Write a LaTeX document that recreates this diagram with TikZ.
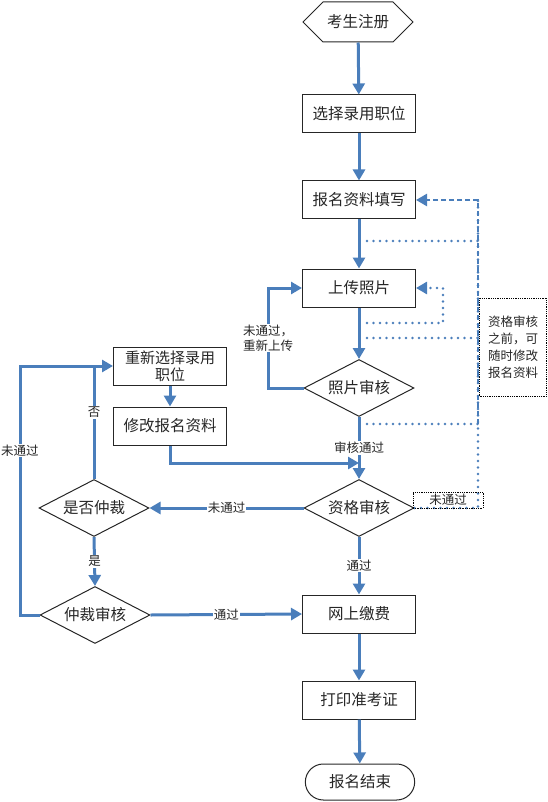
\documentclass[tikz,border=0pt]{standalone}
\usepackage{fontspec}
\usepackage{tikz}
\usetikzlibrary{arrows.meta, positioning, shapes.geometric, shapes.misc, shapes.symbols}
\newfontfamily\cjk{Noto Sans CJK SC}
\definecolor{FlowBlue}{HTML}{4A7EBB}
\definecolor{EdgeDark}{HTML}{262626}

\begin{document}
\begin{tikzpicture}[
    x=1pt, y=-1pt,
    every node/.style={font=\cjk\fontsize{15.5}{18}\selectfont, text=EdgeDark},
    box/.style={draw=EdgeDark, line width=1pt, minimum width=113pt, minimum height=38pt, inner sep=1pt, align=center},
    check/.style={diamond, aspect=2, draw=EdgeDark, line width=1pt, minimum width=110pt, minimum height=57pt, inner sep=0pt},
    start/.style={signal, signal to=west and east, draw=EdgeDark, line width=1pt, minimum width=110pt, minimum height=40pt},
    stop/.style={rounded rectangle, draw=EdgeDark, line width=1pt, minimum width=116pt, minimum height=36pt},
    flow/.style={draw=FlowBlue, line width=3pt, -{Triangle[length=11pt, width=12pt]}},
    link/.style={draw=FlowBlue, line width=3pt},
    dotline/.style={draw=FlowBlue, line width=2.6pt, line cap=round, dash pattern=on 0pt off 6.5pt},
    dashline/.style={draw=FlowBlue, line width=2.5pt, dash pattern=on 5pt off 3pt},
    lbl/.style={fill=white, inner sep=1pt, font=\cjk\fontsize{12.5}{15}\selectfont, align=center},
    tag/.style={draw=black, densely dotted, line width=0.8pt, minimum width=70pt, minimum height=16pt, inner sep=0pt, font=\cjk\fontsize{12.5}{14}\selectfont},
    memo/.style={draw=black, densely dotted, line width=0.8pt, minimum width=67pt, minimum height=98pt, align=left, font=\cjk\fontsize{12.5}{17}\selectfont}
]
\useasboundingbox (0,0) rectangle (548,802);

% === Main column ===
\node[start] (reg) at (358,22) {考生注册};
\node[box] (pick) at (359,114) {选择录用职位};
\node[box] (fill) at (359,200) {报名资料填写};
\node[box] (photo) at (359,288) {上传照片};
\node[check] (pcheck) at (359,388) {照片审核};
\node[check] (qcheck) at (359,508) {资格审核};
\node[box] (pay) at (359,614) {网上缴费};
\node[box] (print) at (359,700) {打印准考证};
\node[stop] (done) at (360,782) {报名结束};

% === Left branch ===
\node[box, inner sep=0pt, font=\cjk\fontsize{15}{17}\selectfont] (repick) at (170,366) {重新选择录用\\职位};
\node[box] (edit) at (170,426) {修改报名资料};
\node[check] (appeal) at (94,508) {是否仲裁};
\node[check] (arb) at (95,615) {仲裁审核};

% === Notes ===
\node[memo] (note) at (513,347) {资格审核\\之前，可\\随时修改\\报名资料};

% main flow
\draw[flow] (reg) -- (pick);
\draw[flow] (pick) -- (fill);
\draw[flow] (fill) -- (photo);
\draw[flow] (photo) -- (pcheck);
\draw[flow] (pcheck) -- node[lbl] {审核通过} (qcheck);
\draw[flow] (qcheck) -- node[lbl] {通过} (pay);
\draw[flow] (pay) -- (print);
\draw[flow] (print) -- (done);

% photo retry
\coordinate (retry) at (268,288);
\draw[flow] (pcheck.west) -| node[lbl, pos=0.75] {未通过，\\重新上传} (retry) -- (photo.west);

% appeal loop
\draw[flow] (qcheck.west) -- node[lbl] {未通过} (appeal.east);
\draw[flow] (appeal.south) -- node[lbl] {是} (arb.north);
\draw[flow] (arb.east) -- node[lbl] {通过} (pay.west);
\coordinate (loop) at (20,366);
\draw[flow] (arb.west) -| node[lbl, pos=0.83] {未通过} (loop) -- (repick.west);
\draw[link] (appeal.north) -- node[lbl, pos=0.59] {否} (appeal.north |- repick.west);
\draw[flow] (repick) -- (edit);
\draw[flow] (edit.south) |- (qcheck.north |- 0,463);

% dotted edits before review
\coordinate (railtop) at (478,200);
\coordinate (tapA) at (367,241);
\coordinate (tapD) at (367,323);
\coordinate (tapB) at (367,338);
\coordinate (tapC) at (367,424);
\coordinate (hook) at (443,288);
\draw[dashline, -{Triangle[length=11pt, width=12pt]}] (tapC -| railtop) |- (fill.east);
\draw[dotline] (tapA) -- (tapA -| railtop);
\draw[dotline] (tapB) -- (tapB -| railtop);
\draw[dotline] (tapC) -- (tapC -| railtop);
\draw[dotline, -{Triangle[length=11pt, width=12pt]}] (tapD) -| (hook) -- (photo.east);
\draw[dotline] (qcheck.east) -- (qcheck.east -| railtop) -- (railtop);
\node[tag] (fail) at (448,500) {未通过};
\end{tikzpicture}
\end{document}
